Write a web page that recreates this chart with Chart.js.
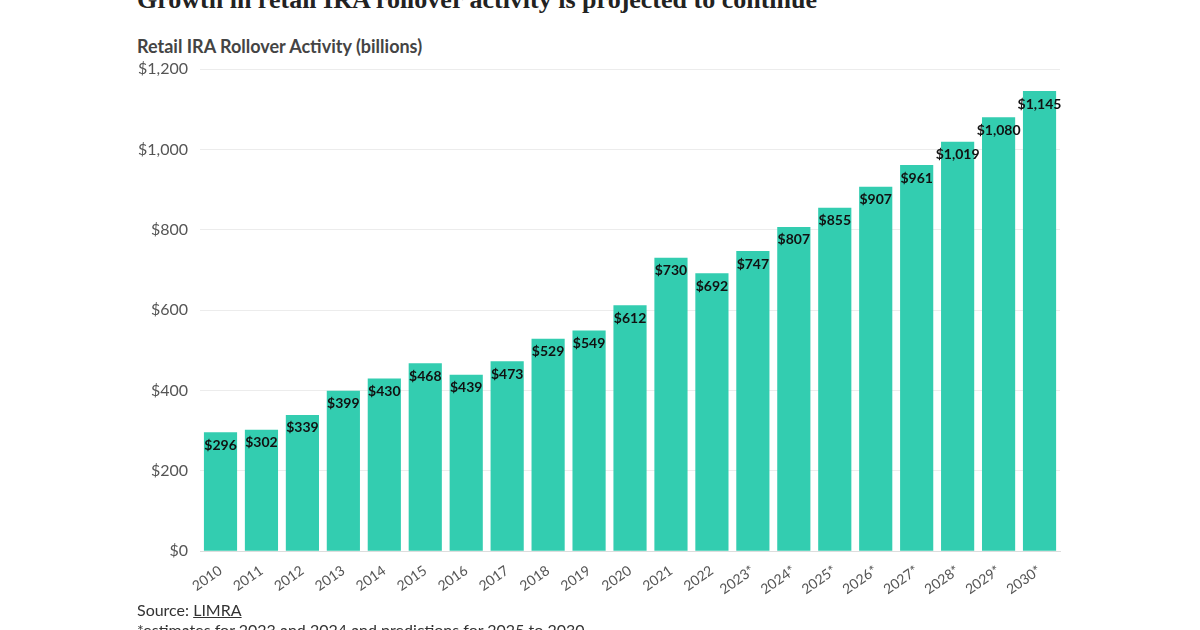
<!DOCTYPE html>
<html><head><meta charset="utf-8">
<script src="https://cdn.jsdelivr.net/npm/chart.js@4"></script>
<style>
html,body{margin:0;padding:0;background:#fff;width:1200px;height:630px;overflow:hidden;position:relative}
#t{position:absolute;left:137px;top:-15px;font:bold 26px "Liberation Serif",serif;color:#222;white-space:nowrap}
#s{position:absolute;left:137px;top:35px;font:bold 18px Lato,sans-serif;color:#444}
#src{position:absolute;left:137px;top:600px;font:16px Lato,sans-serif;color:#333}
#fn{position:absolute;left:137px;top:620px;font:16px Lato,sans-serif;color:#333}
#c{position:absolute;left:0;top:0}
</style></head><body>
<div id="t">Growth in retail IRA rollover activity is projected to continue</div>
<div id="s">Retail IRA Rollover Activity (billions)</div>
<canvas id="c" width="1200" height="630"></canvas>
<div id="src">Source: <u>LIMRA</u></div>
<div id="fn">*estimates for 2023 and 2024 and predictions for 2025 to 2030</div>
<script>
const categories=["2010","2011","2012","2013","2014","2015","2016","2017","2018","2019","2020","2021","2022","2023*","2024*","2025*","2026*","2027*","2028*","2029*","2030*"];
const values=[296,302,339,399,430,468,439,473,529,549,612,730,692,747,807,855,907,961,1019,1080,1145];
const labelsPlugin={id:'lbl',afterDatasetsDraw(ch){const ctx=ch.ctx;const m=ch.getDatasetMeta(0);ctx.save();ctx.font='bold 14px Lato, sans-serif';ctx.fillStyle='#111';ctx.textAlign='center';ctx.textBaseline='top';
m.data.forEach((b,i)=>{ctx.fillText('$'+values[i].toLocaleString('en-US'),b.x,b.y+6);});ctx.restore();}};
new Chart(document.getElementById('c'),{type:'bar',
data:{labels:categories,datasets:[{data:values,backgroundColor:'#33cdb0',barPercentage:0.81,categoryPercentage:1}]},
options:{responsive:false,animation:false,
layout:{padding:{left:126,right:140,top:69,bottom:29}},
plugins:{legend:{display:false},tooltip:{enabled:false}},
scales:{y:{min:0,max:1200,ticks:{stepSize:200,color:'#555',padding:12,font:{family:'Lato',size:16},callback:v=>'$'+v.toLocaleString('en-US')},grid:{color:'#ececec',drawTicks:false},border:{display:false}},
x:{ticks:{color:'#555',font:{family:'Lato',size:14},maxRotation:35,minRotation:35},grid:{display:false},border:{color:'#ddd'}}}},
plugins:[labelsPlugin]});
</script></body></html>
